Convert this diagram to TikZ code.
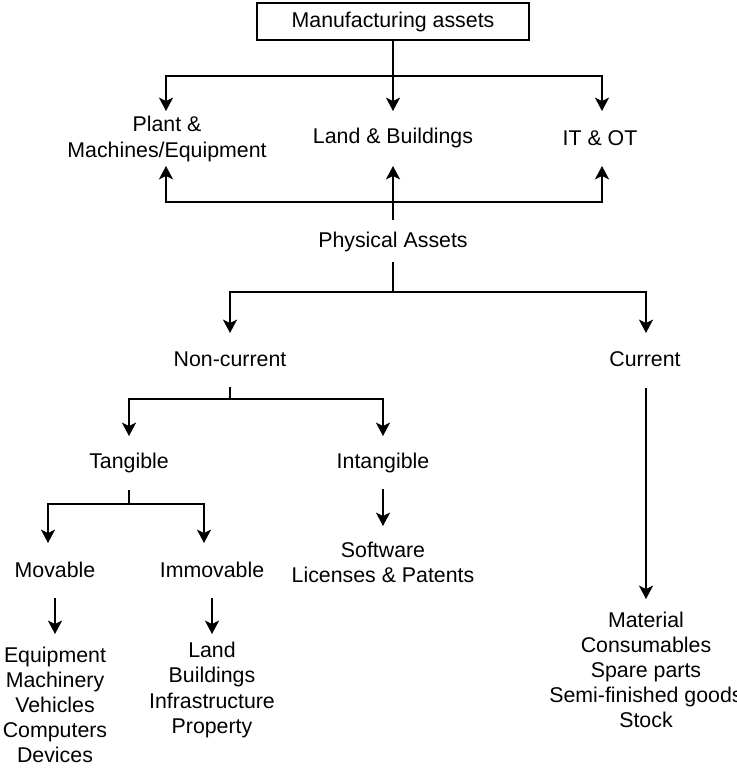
\documentclass[tikz,border=0pt]{standalone}
\usepackage{fontspec}
\setmainfont{Liberation Sans}
\usetikzlibrary{arrows.meta}
\begin{document}
\begin{tikzpicture}[x=0.75pt,y=-0.75pt,
  lbl/.style={inner sep=0pt, align=center, font=\fontsize{16pt}{18.8pt}\selectfont},
  topbox/.style={lbl, draw, line width=1.2pt, minimum width=204pt, minimum height=27.5pt},
  con/.style={line width=1.5pt, -{Stealth[length=10pt,width=10.5pt,inset=2.5pt]}},
  ln/.style={line width=1.5pt}]
\useasboundingbox (0,0) rectangle (737,771);
% nodes
\node[topbox] (ma) at (393,21.5) {Manufacturing assets};
\node[lbl] (pm) at (167,139) {Plant \&\\Machines/Equipment};
\node[lbl] (lb) at (393,138) {Land \& Buildings};
\node[lbl] (it) at (600,138) {IT \& OT};
\node[lbl] (pa) at (393,242) {Physical Assets};
\node[lbl] (nc) at (230,359) {Non-current};
\node[lbl] (cu) at (645,359) {Current};
\node[lbl] (ta) at (129,463) {Tangible};
\node[lbl] (in) at (383,463) {Intangible};
\node[lbl] (mo) at (55,570) {Movable};
\node[lbl] (im) at (212,570) {Immovable};
\node[lbl] (sw) at (383,562) {Software\\Licenses \& Patents};
\node[lbl] (ml) at (55,705) {Equipment\\Machinery\\Vehicles\\Computers\\Devices};
\node[lbl] (il) at (212,690) {Land\\Buildings\\Infrastructure\\Property};
\node[lbl] (cl) at (646,670) {Material\\Consumables\\Spare parts\\Semi-finished goods\\Stock};
% junction and tip coordinates
\coordinate (j1) at (393,76);
\coordinate (pmT) at (166,111);
\coordinate (lbT) at (393,111);
\coordinate (itT) at (602,111);
\coordinate (j2) at (393,202);
\coordinate (paU) at (393,220);
\coordinate (pmB) at (166,166);
\coordinate (lbB) at (393,166);
\coordinate (itB) at (602,166);
\coordinate (paD) at (393,262);
\coordinate (j3) at (393,292);
\coordinate (ncT) at (230,333);
\coordinate (cuT) at (646,333);
\coordinate (ncD) at (230,387);
\coordinate (j4) at (230,399);
\coordinate (taT) at (129,436);
\coordinate (inT) at (383,436);
\coordinate (inD) at (383,489);
\coordinate (swT) at (383,526);
\coordinate (taD) at (129,490);
\coordinate (j5) at (129,504);
\coordinate (moT) at (48,543);
\coordinate (imT) at (204,543);
\coordinate (moD) at (55,598);
\coordinate (mlT) at (55,634);
\coordinate (imD) at (212,598);
\coordinate (ilT) at (212,634);
\coordinate (cuD) at (646,388);
\coordinate (clT) at (646,599);
% connectors
\draw[con] (ma.south) -- (lbT);
\draw[con] (j1) -| (pmT);
\draw[con] (j1) -| (itT);
\draw[con] (paU) -- (lbB);
\draw[con] (j2) -| (pmB);
\draw[con] (j2) -| (itB);
\draw[ln] (paD) -- (j3);
\draw[con] (j3) -| (ncT);
\draw[con] (j3) -| (cuT);
\draw[ln] (ncD) -- (j4);
\draw[con] (j4) -| (taT);
\draw[con] (j4) -| (inT);
\draw[con] (inD) -- (swT);
\draw[ln] (taD) -- (j5);
\draw[con] (j5) -| (moT);
\draw[con] (j5) -| (imT);
\draw[con] (moD) -- (mlT);
\draw[con] (imD) -- (ilT);
\draw[con] (cuD) -- (clT);
\end{tikzpicture}
\end{document}
